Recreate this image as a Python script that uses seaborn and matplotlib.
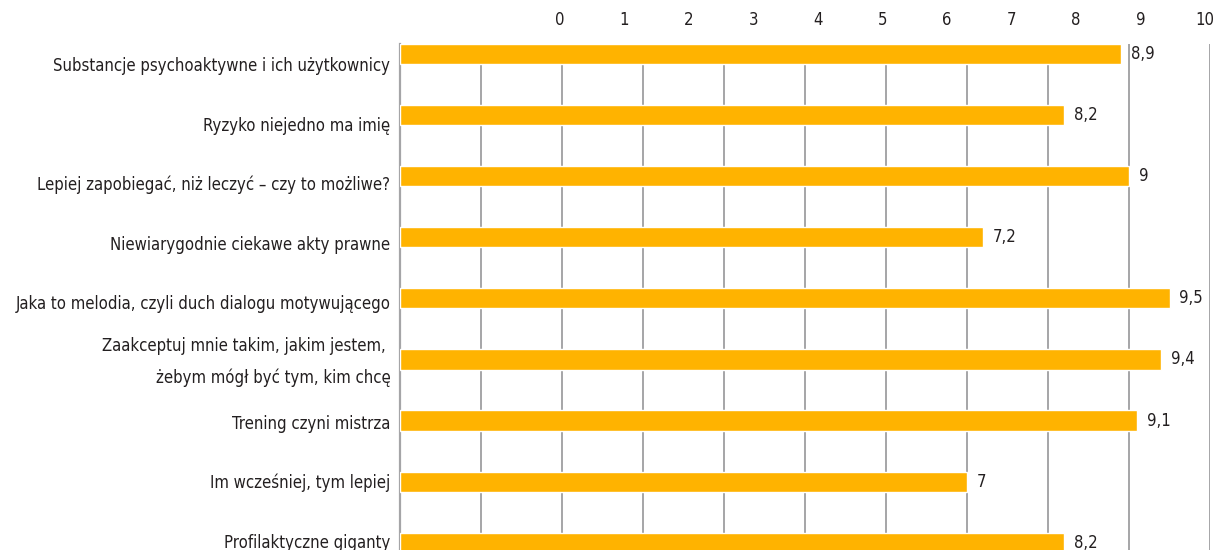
import matplotlib
matplotlib.use("Agg")
import matplotlib.pyplot as plt
import matplotlib.transforms as mtransforms
import seaborn as sns
import pandas as pd

categories = [
    "Substancje psychoaktywne i ich użytkownicy",
    "Ryzyko niejedno ma imię",
    "Lepiej zapobiegać, niż leczyć – czy to możliwe?",
    "Niewiarygodnie ciekawe akty prawne",
    "Jaka to melodia, czyli duch dialogu motywującego",
    "Zaakceptuj mnie takim, jakim jestem, \nżebym mógł być tym, kim chcę",
    "Trening czyni mistrza",
    "Im wcześniej, tym lepiej",
    "Profilaktyczne giganty",
]
values = [8.9, 8.2, 9, 7.2, 9.5, 9.4, 9.1, 7, 8.2]
top_ticks = list(range(0, 11))

BAR = "#FFB300"
GRID = "#A5A5A7"
TEXT = "#231F20"
FS = 12

sns.set_style("white")
plt.rcParams["font.family"] = ["DejaVu Sans"]
plt.rcParams["font.stretch"] = "condensed"
plt.rcParams["text.color"] = TEXT

df = pd.DataFrame({"kurs": categories, "ocena": values})

fig = plt.figure(figsize=(12.18, 5.5), dpi=100)
ax = fig.add_axes([400 / 1218, 0, 810 / 1218, 1 - 44 / 550])

sns.barplot(data=df, x="ocena", y="kurs", orient="h", color=BAR,
            saturation=1, width=0.33, ax=ax, zorder=3)

ax.set_xlim(0, 10)
ax.set_ylim(8.12, -0.164)
ax.set_xticks(top_ticks)
ax.xaxis.grid(True, color=GRID, linewidth=1.4)
ax.set_axisbelow(True)
ax.tick_params(axis="x", length=0, labelbottom=False)
ax.tick_params(axis="y", length=0, pad=7, labelsize=FS, labelcolor=TEXT)
ax.set_xlabel("")
ax.set_ylabel("")
for s in ["top", "right", "bottom"]:
    ax.spines[s].set_visible(False)
ax.spines["left"].set_color(GRID)
ax.spines["left"].set_linewidth(1.6)

# category labels sit on a slightly tighter pitch than the bars in the source
for i, lab in enumerate(ax.get_yticklabels()):
    if "\n" in lab.get_text():
        lab.set_linespacing(1.9)
        lab.set_va("center")
    dy = (10 - 1.5 * i) / 100
    lab.set_transform(lab.get_transform() +
                      mtransforms.ScaledTranslation(0, -dy, fig.dpi_scale_trans))

for i, v in enumerate(values):
    ax.annotate(f"{v:g}".replace(".", ","), (v, i), xytext=(7, 0),
                textcoords="offset points", va="center", ha="left",
                fontsize=FS, color=TEXT)

# top scale as it appears in the source (offset from the bars)
ax2 = ax.twiny()
ax2.set_xlim(-2.48, 10.08)
ax2.set_xticks(top_ticks)
ax2.set_xticklabels([str(t) for t in top_ticks])
ax2.tick_params(axis="x", length=0, pad=11, labelsize=FS, labelcolor=TEXT)
for s in ax2.spines.values():
    s.set_visible(False)

fig.savefig("out.png", dpi=100)
